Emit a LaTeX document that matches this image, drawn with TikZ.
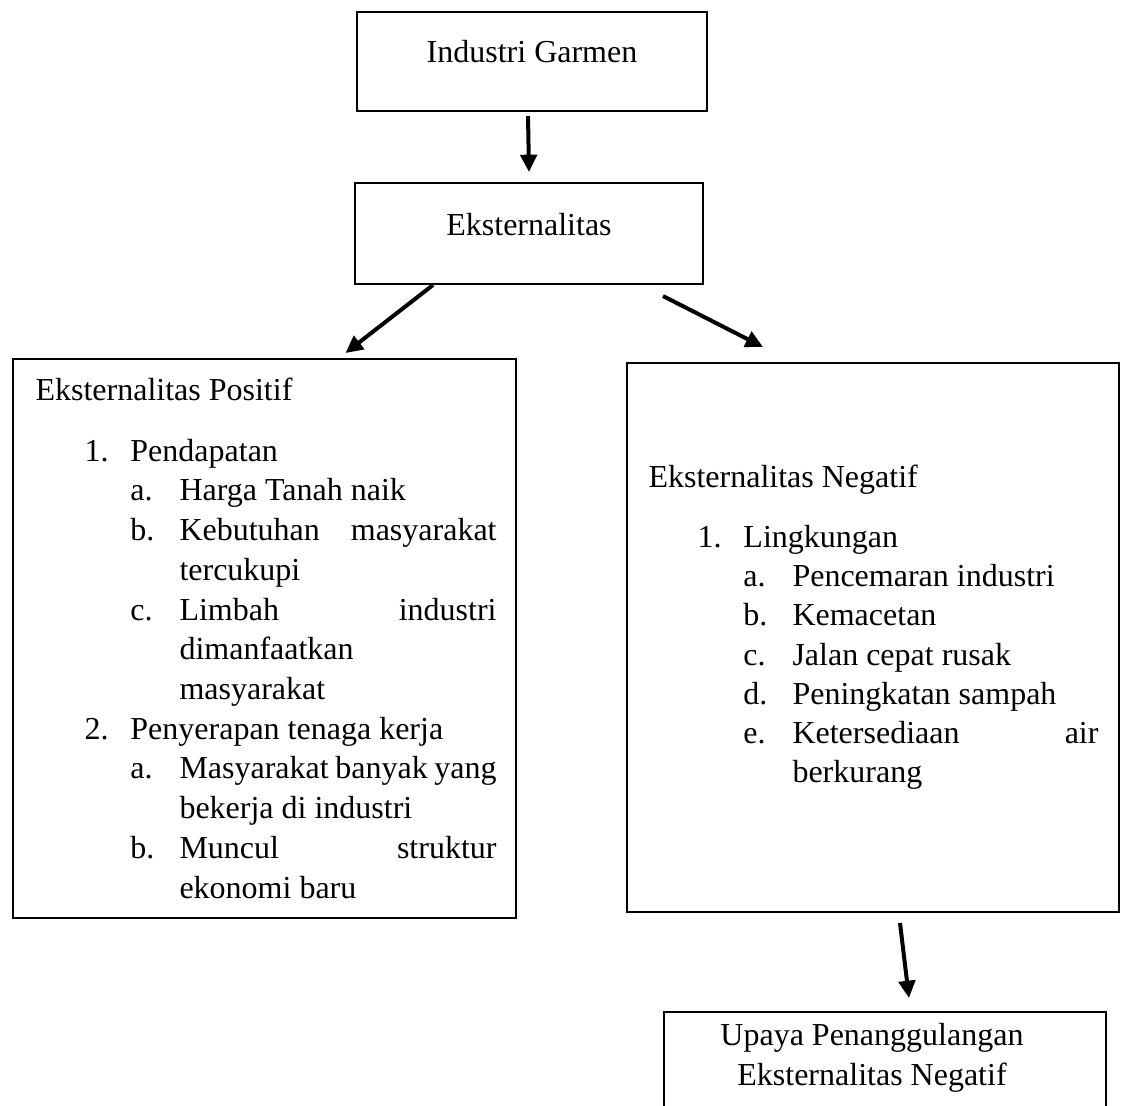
\documentclass[tikz,border=0pt]{standalone}
\usepackage{fontspec}
\setmainfont{Liberation Serif}
\usetikzlibrary{arrows.meta, positioning}
\tikzset{
  box/.style={rectangle, draw=black, line width=1.1pt, inner sep=0pt, outer sep=0pt, anchor=north west},
  lbl/.style={inner sep=0pt, font=\fontsize{12}{15}\selectfont},
  arr/.style={-{Triangle[length=6.5pt, width=6.2pt]}, line width=1.5pt}
}
\newcommand{\numline}[2]{\hspace*{18.4pt}\makebox[17.2pt][l]{#1}#2}
\newcommand{\letline}[2]{\hspace*{35.6pt}\makebox[18.4pt][l]{#1}#2}
\newcommand{\restline}[1]{\hspace*{54pt}#1}
\newcommand{\spreadline}[2]{\makebox[#1][s]{#2}}

\begin{document}
\begin{tikzpicture}[x=0.375pt, y=-0.375pt]
\path[use as bounding box, clip] (0,0) rectangle (1125,1105);
% boxes
\node[box, minimum width=131.25pt, minimum height=37.125pt] (garmen) at (357,12) {};
\node[box, minimum width=130.5pt, minimum height=37.875pt] (ekst) at (355,183) {};
\node[box, minimum width=188.625pt, minimum height=209.625pt] (posbox) at (13,359) {};
\node[box, minimum width=184.5pt, minimum height=205.875pt] (negbox) at (627,363) {};
\node[box, minimum width=165.75pt, minimum height=41.25pt] (upaya) at (664,1012) {};
% texts
\node[lbl, anchor=base] (garmentext) at (532,62) {Industri Garmen};
\node[lbl, anchor=base] (eksttext) at (529,235) {Eksternalitas};
\node[lbl, anchor=base west] (postext) at (35,400) {\parbox[t]{175pt}{\fontsize{12}{14.9}\selectfont
  Eksternalitas Positif\\[8pt]
  \numline{1.}{Pendapatan}\\
  \letline{a.}{Harga Tanah naik}\\
  \letline{b.}{\spreadline{118.9pt}{Kebutuhan masyarakat}}\\
  \restline{tercukupi}\\
  \letline{c.}{\spreadline{118.9pt}{Limbah industri}}\\
  \restline{dimanfaatkan}\\
  \restline{masyarakat}\\
  \numline{2.}{Penyerapan tenaga kerja}\\
  \letline{a.}{\spreadline{118.9pt}{Masyarakat banyak yang}}\\
  \restline{bekerja di industri}\\
  \letline{b.}{\spreadline{118.9pt}{Muncul struktur}}\\
  \restline{ekonomi baru}}};
\node[lbl, anchor=base west] (negtext) at (648,487) {\parbox[t]{175pt}{\fontsize{12}{14.7}\selectfont
  Eksternalitas Negatif\\[8pt]
  \numline{1.}{Lingkungan}\\
  \letline{a.}{Pencemaran industri}\\
  \letline{b.}{Kemacetan}\\
  \letline{c.}{Jalan cepat rusak}\\
  \letline{d.}{Peningkatan sampah}\\
  \letline{e.}{\spreadline{114.75pt}{Ketersediaan air}}\\
  \restline{berkurang}}};
\node[lbl, anchor=base] (upayatext) at (872,1045) {\parbox[t]{160pt}{\centering\fontsize{12}{15}\selectfont
  Upaya Penanggulangan\\Eksternalitas Negatif}};
% arrows
\draw[arr] ([shift={(-4,5)}]garmen.south) -- ([shift={(0,-11)}]ekst.north);
\draw[arr] ([shift={(-96,1)}]ekst.south) -- ([shift={(81,-6)}]posbox.north);
\draw[arr] ([shift={(-40,12)}]ekst.south east) -- ([shift={(-110,-16)}]negbox.north);
\draw[arr] ([shift={(27,11)}]negbox.south) -- ([shift={(24,-14)}]upaya.north);
\end{tikzpicture}
\end{document}
